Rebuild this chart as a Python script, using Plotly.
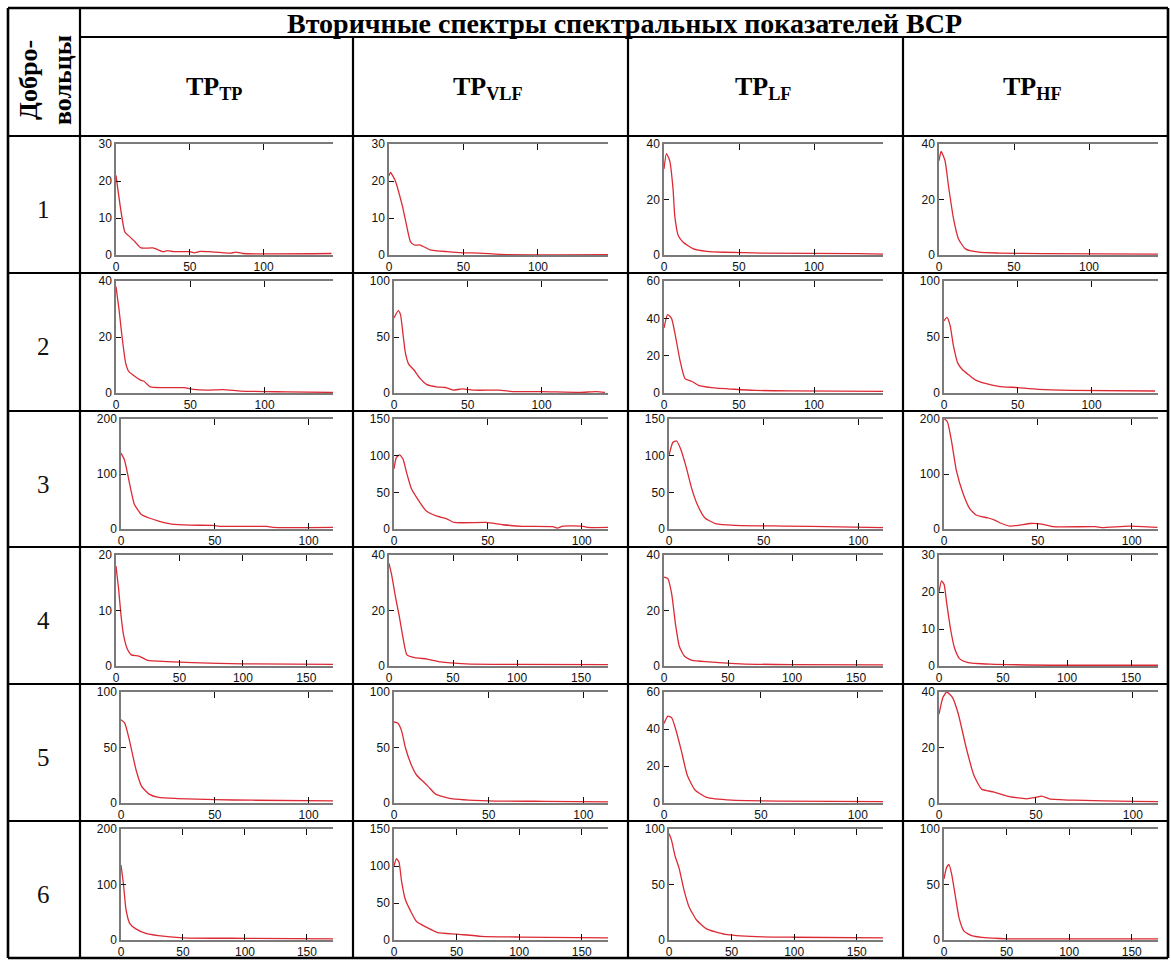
import plotly.graph_objects as go

W, H = 1171, 962

# ---------------- data ----------------
TITLE = "Вторичные спектры спектральных показателей ВСР"
ROW_HEADER = "Добро-<br>вольцы"
COL_LABELS = ["<b>TP<sub>TP</sub></b>", "<b>TP<sub>VLF</sub></b>",
              "<b>TP<sub>LF</sub></b>", "<b>TP<sub>HF</sub></b>"]
VOLUNTEERS = ["1", "2", "3", "4", "5", "6"]

# volunteer 1
v1_tp_x = [0, 6, 8.3, 12.8, 17, 25, 32, 35, 39, 50, 53, 57, 63, 70, 78, 81, 86, 146]
v1_tp_y = [21.5, 6.2, 5.3, 3.6, 1.9, 1.9, 0.9, 1.2, 0.9, 0.9, 0.6, 1.0, 0.9, 0.7, 0.5, 0.8, 0.4, 0.4]
v1_vlf_x = [0, 1, 4, 9, 11.7, 14.4, 17, 21, 27.5, 39, 50, 61, 79, 147]
v1_vlf_y = [21.4, 22.3, 20.3, 13.2, 8.2, 3.6, 2.7, 2.7, 1.4, 0.9, 0.6, 0.5, 0.1, 0.1]
v1_lf_x = [0, 1.6, 3.8, 6, 7.2, 9.5, 12.8, 19.6, 28.6, 40, 66, 130, 146]
v1_lf_y = [31, 36.5, 34, 24, 14, 7, 4.6, 2.2, 1.3, 1.0, 0.7, 0.5, 0.3]
v1_hf_x = [0, 1.4, 4, 6.3, 9.7, 13, 17.6, 26.6, 40, 69, 146]
v1_hf_y = [34, 37.3, 34, 25, 13, 5.8, 2.2, 1.0, 0.7, 0.5, 0.3]
# volunteer 2
v2_tp_x = [0, 2, 4, 6.5, 8.7, 13, 16.5, 18.8, 23, 32, 45.6, 52, 61, 72, 84, 101, 115, 146]
v2_tp_y = [38, 30, 20.4, 10.7, 7.6, 5.8, 4.6, 4.2, 2.2, 1.9, 1.9, 1.3, 1.0, 1.2, 0.7, 0.5, 0.4, 0.2]
v2_vlf_x = [0, 2.9, 4.4, 6.2, 7.7, 10, 13.3, 17.7, 22, 28.8, 35, 40, 46, 55, 71, 82, 100, 126, 137, 143]
v2_vlf_y = [67, 73.6, 70, 51.5, 36, 25.5, 21, 13, 7.7, 5.5, 4.9, 2.5, 3.7, 2.5, 2.5, 1.2, 1.2, 0.6, 1.2, 0.6]
v2_lf_x = [0, 2.4, 5, 7.3, 10.6, 14, 18.4, 23, 31.7, 47, 60.5, 85, 146]
v2_lf_y = [34.8, 42, 40, 32, 17.7, 7.7, 6.3, 4.1, 2.9, 2.0, 1.4, 1.1, 0.9]
v2_hf_x = [0, 2, 4.2, 6.4, 9.3, 12.7, 17, 21.5, 28, 37, 50, 64, 86, 143]
v2_hf_y = [64.5, 67.6, 60, 42, 26.7, 20.6, 16, 11.5, 8.5, 6, 4.8, 3.3, 2.4, 1.8]
# volunteer 3
v3_tp_x = [0, 1.8, 3.6, 5.4, 7.1, 10.7, 15, 20.5, 27, 36.6, 49, 52.7, 77.7, 81, 113]
v3_tp_y = [138, 126, 99, 69, 45, 27, 20, 14, 9, 7, 6.6, 4.8, 4.8, 3, 3]
v3_vlf_x = [0, 1.2, 3, 4.8, 6.6, 9.2, 12.8, 17.2, 22.5, 27.8, 32, 49, 58, 68.6, 84.6, 87, 90, 100, 103, 114]
v3_vlf_y = [82, 97, 101, 95.5, 78, 55.5, 40, 24.4, 17.8, 14.2, 8.9, 8.9, 5.8, 3.6, 3.1, 1.3, 4, 4, 2.2, 2.2]
v3_lf_x = [0, 2, 4, 6, 9, 12, 15, 19, 25, 35, 60, 90, 113]
v3_lf_y = [100, 118, 120, 110, 85, 55, 33, 15, 7, 5, 4, 3, 2]
v3_hf_x = [0, 1.8, 3.9, 6.6, 10.2, 13.7, 17.3, 23.6, 27, 30.7, 35, 39.6, 46, 52, 58, 80.7, 84, 98.6, 113.7]
v3_hf_y = [201, 195, 162, 106, 64, 37, 25, 20, 16, 10, 5.4, 6.6, 10, 9, 4.2, 4.2, 2.4, 5.4, 3]
# volunteer 4
v4_tp_x = [0, 2, 4, 6, 9, 12, 18, 25, 40, 60, 100, 171]
v4_tp_y = [18, 14, 9, 5.5, 3, 2, 1.8, 1, 0.8, 0.6, 0.4, 0.3]
v4_vlf_x = [0, 2, 5, 8, 11, 14, 20, 30, 40, 60, 100, 171]
v4_vlf_y = [37, 33, 25, 18, 10, 4, 3, 2.5, 1.5, 0.8, 0.6, 0.5]
v4_lf_x = [0, 3, 6, 9, 12, 16, 22, 35, 60, 100, 171]
v4_lf_y = [32, 31.5, 26, 15, 7, 3.5, 2, 1.5, 0.8, 0.5, 0.4]
v4_hf_x = [0, 2, 4, 6, 9, 12, 16, 22, 40, 100, 171]
v4_hf_y = [20, 23, 22, 17, 10, 5, 2, 1, 0.5, 0.2, 0.2]
# volunteer 5
v5_tp_x = [0, 2, 4, 6, 8, 11, 15, 20, 30, 50, 70, 113]
v5_tp_y = [75, 72, 60, 45, 30, 15, 8, 5, 4, 3, 2.5, 2]
v5_vlf_x = [0, 2, 4, 6, 9, 12, 15, 18, 22, 30, 50, 80, 113]
v5_vlf_y = [73, 72, 65, 50, 35, 25, 20, 15, 8, 4, 2, 1.5, 1]
v5_lf_x = [0, 2, 4, 6, 9, 12, 16, 22, 35, 60, 113]
v5_lf_y = [43, 47, 46, 40, 28, 15, 7, 3, 1.5, 1, 0.7]
v5_hf_x = [0, 2, 4, 7, 10, 14, 18, 22, 28, 35, 45, 50, 53, 57, 70, 100, 113]
v5_hf_y = [32, 38, 40, 38, 32, 20, 10, 5, 4, 2.5, 1.5, 2, 2.5, 1.5, 1, 0.6, 0.5]
# volunteer 6
v6_tp_x = [0, 2, 4, 7, 12, 20, 30, 50, 100, 171]
v6_tp_y = [135, 100, 55, 30, 20, 12, 8, 4, 3, 2]
v6_vlf_x = [0, 2, 4, 6, 9, 13, 18, 25, 35, 50, 70, 100, 171]
v6_vlf_y = [100, 110, 105, 80, 55, 40, 25, 18, 10, 8, 5, 4, 3]
v6_lf_x = [0, 2, 5, 8, 12, 16, 22, 30, 45, 70, 100, 171]
v6_lf_y = [96, 90, 75, 65, 45, 30, 18, 10, 5, 3, 2.5, 2]
v6_hf_x = [0, 2, 4, 6, 9, 12, 16, 22, 35, 60, 100, 171]
v6_hf_y = [55, 65, 68, 60, 40, 20, 8, 4, 2, 1, 1, 1]

SERIES = [
    [(v1_tp_x, v1_tp_y), (v1_vlf_x, v1_vlf_y), (v1_lf_x, v1_lf_y), (v1_hf_x, v1_hf_y)],
    [(v2_tp_x, v2_tp_y), (v2_vlf_x, v2_vlf_y), (v2_lf_x, v2_lf_y), (v2_hf_x, v2_hf_y)],
    [(v3_tp_x, v3_tp_y), (v3_vlf_x, v3_vlf_y), (v3_lf_x, v3_lf_y), (v3_hf_x, v3_hf_y)],
    [(v4_tp_x, v4_tp_y), (v4_vlf_x, v4_vlf_y), (v4_lf_x, v4_lf_y), (v4_hf_x, v4_hf_y)],
    [(v5_tp_x, v5_tp_y), (v5_vlf_x, v5_vlf_y), (v5_lf_x, v5_lf_y), (v5_hf_x, v5_hf_y)],
    [(v6_tp_x, v6_tp_y), (v6_vlf_x, v6_vlf_y), (v6_lf_x, v6_lf_y), (v6_hf_x, v6_hf_y)],
]

Y_MAX = [[30, 30, 40, 40], [40, 100, 60, 100], [200, 150, 150, 200],
         [20, 40, 40, 30], [100, 100, 60, 40], [200, 150, 100, 100]]
Y_STEP = [[10, 10, 20, 20], [20, 50, 20, 50], [100, 50, 50, 100],
          [10, 20, 20, 10], [50, 50, 20, 20], [100, 50, 50, 50]]
X_MAX = [[147, 147, 146, 146], [146, 145, 146, 145], [113, 114, 113, 114],
         [171, 171, 171, 171], [113, 113, 113, 113], [171, 171, 171, 171]]
X_STEP = 50

# ---------------- layout geometry ----------------
COL_EDGES = [8, 80, 353, 628, 903, 1168]
ROW_EDGES = [8, 37, 136, 273, 411, 547, 684, 821, 958]


def fx(p):
    return p / W


def fy(p):
    return 1 - p / H


fig = go.Figure()
RED = "#dc2a35"
AX = "#7a7a7a"
TICKFONT = dict(family="Liberation Sans Narrow, Liberation Sans, Arial, sans-serif",
                size=12, color="#111")

n = 0
for r in range(6):
    for c in range(4):
        n += 1
        cl, cr = COL_EDGES[c + 1], COL_EDGES[c + 2]
        ct, cb = ROW_EDGES[r + 2], ROW_EDGES[r + 3]
        left = cl + (41 if Y_MAX[r][c] >= 100 else 36)
        right = cr - (10 if c == 3 else 20)
        top = ct + 8
        bottom = cb - 18
        xs, ys = SERIES[r][c]
        fig.add_trace(go.Scatter(x=xs, y=ys, mode="lines",
                                 line=dict(color=RED, width=1.3, shape="spline", smoothing=0.5),
                                 xaxis=f"x{n}", yaxis=f"y{n}", showlegend=False,
                                 hoverinfo="skip"))
        xa = dict(domain=[fx(left), fx(right)], range=[0, X_MAX[r][c]], anchor=f"y{n}",
                  tick0=0, dtick=X_STEP, ticks="inside", ticklen=6, tickcolor="#111",
                  showline=True, linecolor=AX, linewidth=1.5, mirror="ticks",
                  showgrid=False, zeroline=False, tickfont=TICKFONT, fixedrange=True,
                  automargin=False)
        ya = dict(domain=[fy(bottom), fy(top)], range=[0, Y_MAX[r][c]], anchor=f"x{n}",
                  tick0=0, dtick=Y_STEP[r][c], ticks="inside", ticklen=5, tickcolor="#111",
                  showline=True, linecolor=AX, linewidth=1.5, mirror=False,
                  showgrid=False, zeroline=False, tickfont=TICKFONT, fixedrange=True,
                  automargin=False)
        sfx = "" if n == 1 else str(n)
        fig.layout["xaxis" + sfx] = xa
        fig.layout["yaxis" + sfx] = ya

# ---------------- table grid ----------------
shapes = []
LW = 2.2


def hline(y, x0, x1, w=LW):
    shapes.append(dict(type="line", xref="paper", yref="paper", x0=fx(x0), x1=fx(x1),
                       y0=fy(y), y1=fy(y), line=dict(color="black", width=w)))


def vline(x, y0, y1, w=LW):
    shapes.append(dict(type="line", xref="paper", yref="paper", x0=fx(x), x1=fx(x),
                       y0=fy(y0), y1=fy(y1), line=dict(color="black", width=w)))


hline(ROW_EDGES[0], COL_EDGES[0], COL_EDGES[-1], 2.6)
hline(ROW_EDGES[1], COL_EDGES[1], COL_EDGES[-1])
for yv in ROW_EDGES[2:-1]:
    hline(yv, COL_EDGES[0], COL_EDGES[-1])
hline(ROW_EDGES[-1], COL_EDGES[0], COL_EDGES[-1], 2.6)
vline(COL_EDGES[0], ROW_EDGES[0], ROW_EDGES[-1], 2.6)
vline(COL_EDGES[1], ROW_EDGES[0], ROW_EDGES[-1])
for xv in COL_EDGES[2:-1]:
    vline(xv, ROW_EDGES[1], ROW_EDGES[-1])
vline(COL_EDGES[-1], ROW_EDGES[0], ROW_EDGES[-1], 2.6)

# ---------------- texts ----------------
SERIF = "Liberation Serif, Times New Roman, serif"
ann = []


def add_text(text, x, y, size, angle=0, color="black"):
    ann.append(dict(text=text, x=fx(x), y=fy(y), xref="paper", yref="paper",
                    xanchor="center", yanchor="middle", showarrow=False, textangle=angle,
                    align="center", font=dict(family=SERIF, size=size, color=color)))


add_text(f"<b>{TITLE}</b>", (COL_EDGES[1] + COL_EDGES[-1]) / 2,
         (ROW_EDGES[0] + ROW_EDGES[1]) / 2 + 1, 28)
add_text(f"<b>{ROW_HEADER}</b>", (COL_EDGES[0] + COL_EDGES[1]) / 2 + 1,
         (ROW_EDGES[0] + ROW_EDGES[2]) / 2 + 8, 26, angle=-90)
for c, lab in enumerate(COL_LABELS):
    add_text(lab, (COL_EDGES[c + 1] + COL_EDGES[c + 2]) / 2 - 3,
             (ROW_EDGES[1] + ROW_EDGES[2]) / 2 + 2, 26)
for r, v in enumerate(VOLUNTEERS):
    add_text(v, (COL_EDGES[0] + COL_EDGES[1]) / 2,
             (ROW_EDGES[r + 2] + ROW_EDGES[r + 3]) / 2 + 5, 25, color="#111")

fig.update_layout(width=W, height=H, margin=dict(l=0, r=0, t=0, b=0, pad=0),
                  paper_bgcolor="white", plot_bgcolor="white",
                  shapes=shapes, annotations=ann)

fig.write_html("out.html", config={"displayModeBar": False},
               post_script="document.body.style.margin='0';")
